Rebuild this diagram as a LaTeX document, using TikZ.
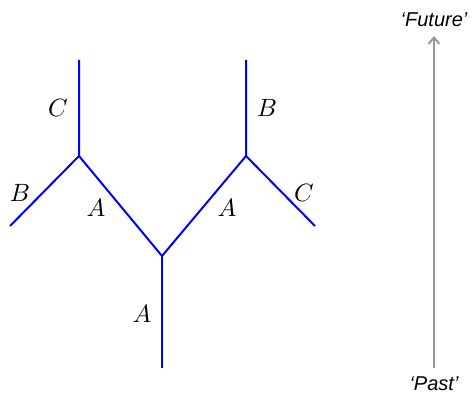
\documentclass[tikz,border=0pt]{standalone}
\usepackage{fontspec}
\newfontfamily\timefont{Liberation Sans}
\usetikzlibrary{arrows.meta}
\tikzset{
  branch/.style={draw=blue, line width=0.8pt},
  lbl/.style={font=\normalsize, inner sep=1pt},
  timeaxis/.style={-{Straight Barb[length=0.9mm, width=1.5mm]}, draw=black!40, line width=0.8pt},
  timelbl/.style={font=\timefont\itshape\footnotesize, inner sep=1pt},
}
\begin{document}
\begin{tikzpicture}[x=0.4pt, y=-0.4pt]
  \useasboundingbox (0,0) rectangle (473,397);
  % vertices of the tree
  \coordinate (root) at (162,368);
  \coordinate (mid) at (162,256);
  \coordinate (lv) at (79,156);
  \coordinate (rv) at (246,156);
  \coordinate (ltop) at (79,60);
  \coordinate (rtop) at (246,60);
  \coordinate (lend) at (10,226);
  \coordinate (rend) at (315,226);
  \draw[branch] (root) -- (mid);
  \draw[branch] (mid) -- (lv) -- (ltop);
  \draw[branch] (mid) -- (rv) -- (rtop);
  \draw[branch] (lv) -- (lend);
  \draw[branch] (rv) -- (rend);
  % labels
  \node[lbl] (la) at (142,314) {$A$};
  \node[lbl] (lla) at (96,208) {$A$};
  \node[lbl] (rla) at (227,208) {$A$};
  \node[lbl] (lc) at (58,108) {$C$};
  \node[lbl] (lb) at (20,193) {$B$};
  \node[lbl] (rb) at (267,108) {$B$};
  \node[lbl] (rc) at (304,193) {$C$};
  % time direction
  \node[timelbl] (past) at (434,384) {‘Past’};
  \node[timelbl] (future) at (434,20) {‘Future’};
  \coordinate (tail) at (434,368);
  \coordinate (head) at (434,36);
  \draw[timeaxis] (tail) -- (head);
\end{tikzpicture}
\end{document}
